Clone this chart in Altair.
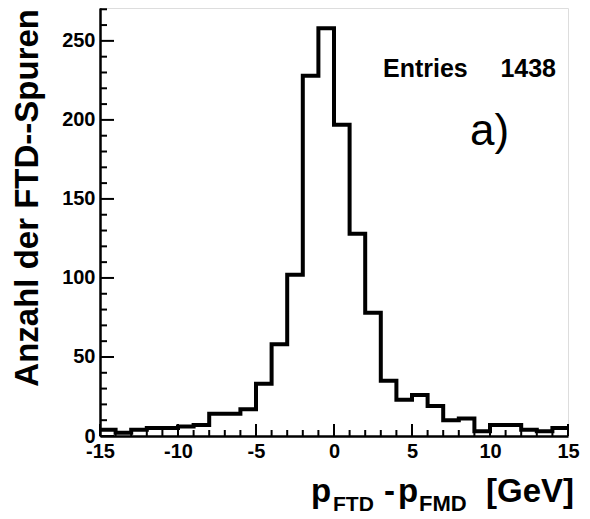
import altair as alt
import pandas as pd

# ---- data ----
bin_left = list(range(-15, 15))
counts = [4, 2, 4, 5, 5, 6, 7, 14, 14, 17, 33, 58, 102, 228, 258,
          197, 128, 78, 35, 23, 26, 19, 10, 11, 3, 7, 7, 4, 3, 5]
x_labels = [-15, -10, -5, 0, 5, 10, 15]
y_labels = [0, 50, 100, 150, 200, 250]
x_minor = [v for v in range(-15, 16) if v % 5 != 0]
y_minor = [v for v in range(10, 271, 10) if v % 50 != 0]
entries_label = "Entries"
entries_value = "1438"
panel_label = "a)"
y_title = "Anzahl der FTD--Spuren"

FONT = "Liberation Sans"
W, H = 468, 428
YMAX = 270.8

edges = bin_left + [15]
vals = counts + [counts[-1]]
hist_df = pd.DataFrame({"x": edges, "n": vals})

xs = alt.Scale(domain=[-15, 15], nice=False, zero=False)
ys = alt.Scale(domain=[0, YMAX], nice=False, zero=True)

x_axis = alt.Axis(
    values=x_labels, ticks=False, tickSize=0, labelPadding=5,
    labelFlush=False, labelOverlap=False, labelBound=False,
    labelFont=FONT, labelFontSize=20, labelFontWeight="bold",
    labelColor="black", domainColor="black", domainWidth=2.5,
    grid=False, title=None, labelExpr="'' + datum.value")
y_axis = alt.Axis(
    values=y_labels, ticks=False, tickSize=0, labelPadding=5,
    labelFont=FONT, labelFontSize=20, labelFontWeight="bold",
    labelColor="black", domainColor="black", domainWidth=2.5,
    grid=False, title=None, labelExpr="'' + datum.value")

hist = alt.Chart(hist_df).mark_line(
    interpolate="step-after", color="black", strokeWidth=4, clip=True
).encode(
    x=alt.X("x:Q", scale=xs, axis=x_axis),
    y=alt.Y("n:Q", scale=ys, axis=y_axis),
)

def xticks(values, length):
    return alt.Chart(pd.DataFrame({"x": values})).mark_rule(
        color="black", strokeWidth=2
    ).encode(
        x=alt.X("x:Q", scale=xs, axis=x_axis),
        y=alt.value(H), y2=alt.value(H - length),
    )

def yticks(values, length):
    return alt.Chart(pd.DataFrame({"n": values})).mark_rule(
        color="black", strokeWidth=2
    ).encode(
        y=alt.Y("n:Q", scale=ys, axis=y_axis),
        x=alt.value(0), x2=alt.value(length),
    )

def txt(s, x, y, size, weight="bold", align="left", baseline="alphabetic", angle=0):
    kw = dict(font=FONT, fontSize=size, fontWeight=weight, align=align,
              baseline=baseline, color="black")
    if angle:
        kw["angle"] = angle
    return alt.Chart(pd.DataFrame({"t": [s]})).mark_text(**kw).encode(
        x=alt.value(x), y=alt.value(y), text="t:N")

OX, OY = 100, 8  # plot origin in page pixels

layers = [
    hist,
    xticks(x_labels, 12), xticks(x_minor, 6),
    yticks(y_labels, 14), yticks(y_minor, 7),
    txt(entries_label, 383 - OX, 77 - OY, 25),
    txt(entries_value, 556 - OX, 77 - OY, 25, align="right"),
    txt(panel_label, 470 - OX, 145 - OY, 44, weight="normal"),
    # x title with subscripts
    txt("p", 311 - OX, 502 - OY, 33),
    txt("FTD", 333 - OX, 510.5 - OY, 21),
    txt("-", 384 - OX, 502 - OY, 33),
    txt("p", 398 - OX, 502 - OY, 33),
    txt("FMD", 419 - OX, 510.5 - OY, 22),
    txt("[GeV]", 574 - OX, 502 - OY, 33, align="right"),
    # y title
    txt(y_title, 38 - OX, 1, 33, align="right", angle=270),
]

chart = alt.layer(*layers).properties(
    width=W, height=H,
    autosize=alt.AutoSizeParams(type="none"),
    padding={"left": 92, "top": 0, "right": 14, "bottom": 80},
).configure_view(
    stroke="black", strokeWidth=2.5
).configure(background="white")

chart.save("out.html", embed_options={"renderer": "svg", "actions": False})
